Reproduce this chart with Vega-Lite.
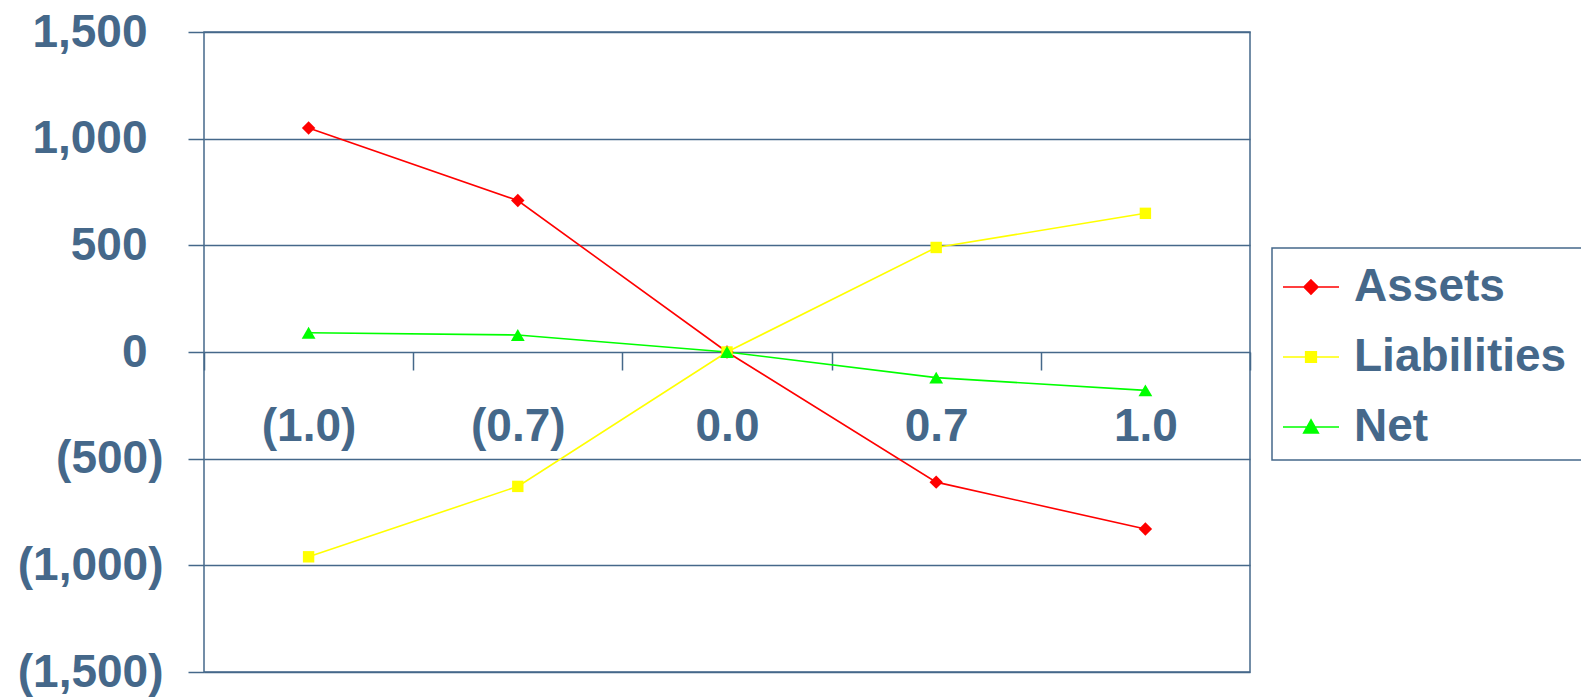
{
  "$schema": "https://vega.github.io/schema/vega-lite/v6.json",
  "width": 1046,
  "height": 640,
  "autosize": "none",
  "padding": {"left": 204, "top": 32, "right": 331, "bottom": 26},
  "background": "white",
  "config": {
    "view": {"stroke": "#45688A", "strokeWidth": 1.5},
    "font": "Liberation Sans"
  },
  "data": {
    "values": [
      {"shift": "(1.0)", "series": "Assets", "value": 1050},
      {"shift": "(0.7)", "series": "Assets", "value": 710},
      {"shift": "0.0", "series": "Assets", "value": 0},
      {"shift": "0.7", "series": "Assets", "value": -610},
      {"shift": "1.0", "series": "Assets", "value": -830},
      {"shift": "(1.0)", "series": "Liabilities", "value": -960},
      {"shift": "(0.7)", "series": "Liabilities", "value": -630},
      {"shift": "0.0", "series": "Liabilities", "value": 0},
      {"shift": "0.7", "series": "Liabilities", "value": 490},
      {"shift": "1.0", "series": "Liabilities", "value": 650},
      {"shift": "(1.0)", "series": "Net", "value": 90},
      {"shift": "(0.7)", "series": "Net", "value": 80},
      {"shift": "0.0", "series": "Net", "value": 0},
      {"shift": "0.7", "series": "Net", "value": -120},
      {"shift": "1.0", "series": "Net", "value": -180}
    ]
  },
  "encoding": {
    "x": {
      "field": "shift",
      "type": "ordinal",
      "sort": ["(1.0)", "(0.7)", "0.0", "0.7", "1.0"],
      "scale": {"type": "band", "paddingInner": 0, "paddingOuter": 0},
      "axis": {
        "title": null,
        "orient": "bottom",
        "offset": -320,
        "domain": false,
        "grid": false,
        "tickBand": "extent",
        "tickSize": 18,
        "tickWidth": 1.5,
        "tickColor": "#45688A",
        "labelAngle": 0,
        "labelBaseline": "alphabetic",
        "labelPadding": 70,
        "labelFontSize": 46,
        "labelFontWeight": "bold",
        "labelColor": "#45688A",
        "labelFont": "Liberation Sans"
      }
    },
    "y": {
      "field": "value",
      "type": "quantitative",
      "scale": {"domain": [-1500, 1500], "nice": false, "zero": false},
      "axis": {
        "title": null,
        "values": [-1500, -1000, -500, 0, 500, 1000, 1500],
        "grid": true,
        "gridColor": "#45688A",
        "gridWidth": 1.5,
        "gridOpacity": 1,
        "domain": false,
        "tickSize": 16,
        "tickWidth": 1.5,
        "tickColor": "#45688A",
        "labelExpr": "datum.value < 0 ? '(' + format(-datum.value, ',') + ')' : format(datum.value, ',')",
        "labelPadding": {"condition": {"test": "datum.value < 0", "value": 25}, "value": 41},
        "labelFontSize": 46,
        "labelFontWeight": "bold",
        "labelColor": "#45688A",
        "labelFont": "Liberation Sans"
      }
    }
  },
  "layer": [
    {
      "mark": {"type": "line", "strokeWidth": 1.6},
      "encoding": {
        "color": {
          "field": "series",
          "type": "nominal",
          "scale": {"domain": ["Assets", "Liabilities", "Net"], "range": ["#FF0000", "#FFFF00", "#00FF00"]},
          "legend": {
            "title": "\u00a0",
            "titleOrient": "right",
            "titlePadding": 30,
            "titleFontSize": 10,
            "orient": "none",
            "legendX": 1068,
            "legendY": 216,
            "padding": 10,
            "strokeColor": "#45688A",
            "fillColor": "white",
            "labelFontSize": 46,
            "labelFontWeight": "bold",
            "labelColor": "#45688A",
            "labelFont": "Liberation Sans",
            "labelLimit": 500,
            "labelOffset": 14,
            "symbolSize": 3136,
            "rowPadding": 18,
            "symbolStrokeWidth": 1.6,
            "encode": {
              "legend": {"update": {"strokeWidth": {"value": 1.5}}},
              "symbols": {
                "update": {
                  "shape": {"signal": "datum.value === 'Assets' ? 'M-1,0L1,0M0,-0.25L0.25,0L0,0.25L-0.25,0Z' : datum.value === 'Liabilities' ? 'M-1,0L1,0M-0.19,-0.19L0.19,-0.19L0.19,0.19L-0.19,0.19Z' : 'M-1,0L1,0M0,-0.25L0.26,0.21L-0.26,0.21Z'"},
                  "fill": {"scale": "color", "field": "value"},
                  "stroke": {"scale": "color", "field": "value"},
                  "strokeWidth": {"value": 1.6},
                  "opacity": {"value": 1}
                }
              }
            }
          }
        }
      }
    },
    {
      "transform": [{"filter": "datum.series === 'Assets'"}],
      "mark": {"type": "point", "filled": true, "opacity": 1, "size": 180, "shape": "diamond", "color": "#FF0000"}
    },
    {
      "transform": [{"filter": "datum.series === 'Liabilities'"}],
      "mark": {"type": "point", "filled": true, "opacity": 1, "size": 130, "shape": "square", "color": "#FFFF00"}
    },
    {
      "transform": [{"filter": "datum.series === 'Net'"}],
      "mark": {"type": "point", "filled": true, "opacity": 1, "size": 190, "shape": "triangle-up", "color": "#00FF00"}
    }
  ]
}
